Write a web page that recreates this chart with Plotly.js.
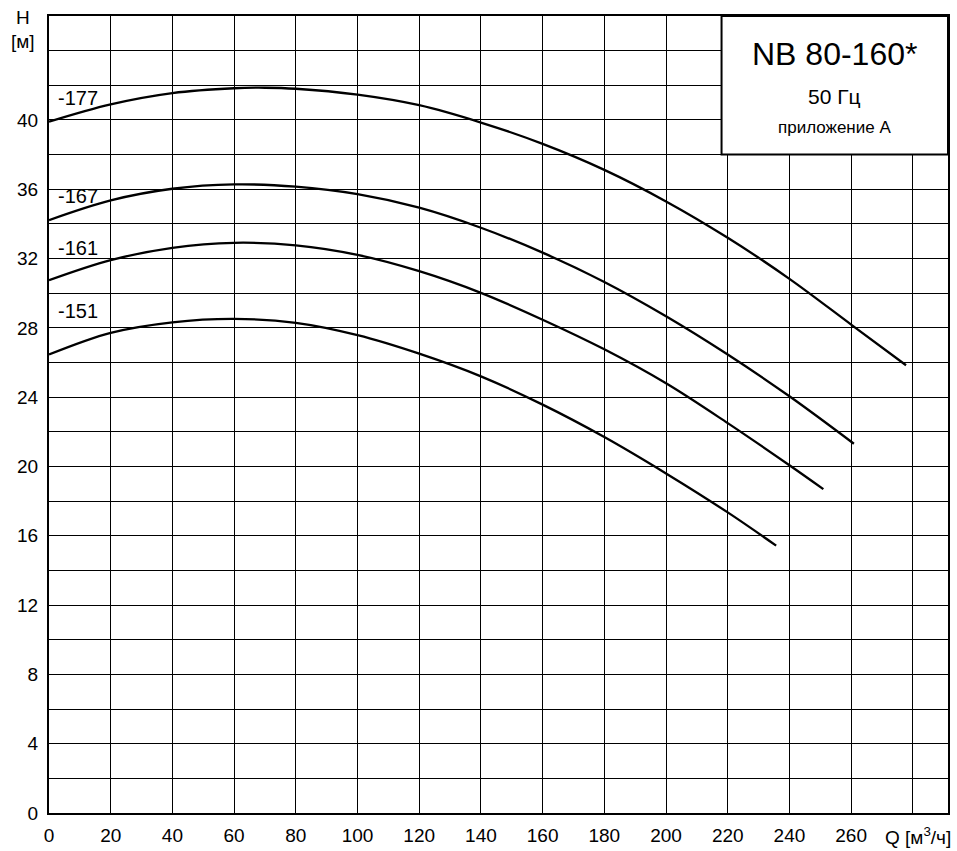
<!DOCTYPE html>
<html>
<head>
<meta charset="utf-8">
<script src="https://cdn.plot.ly/plotly-3.0.1.min.js"></script>
<style>html,body{margin:0;padding:0;background:#fff;}#chart{width:957px;height:851px;}</style>
</head>
<body>
<div id="chart"></div>
<script>
// ---- data ----
const q177 = [0, 20, 40, 60, 70, 80, 100, 120, 140, 160, 180, 200, 220, 240, 260, 277.8];
const h177 = [39.9, 40.9, 41.55, 41.83, 41.86, 41.8, 41.46, 40.85, 39.85, 38.62, 37.12, 35.3, 33.2, 30.83, 28.19, 25.84];

const q167 = [0, 20, 40, 60, 80, 100, 120, 140, 160, 180, 200, 220, 240, 260.9];
const h167 = [34.22, 35.36, 36.03, 36.28, 36.15, 35.72, 34.94, 33.78, 32.34, 30.65, 28.67, 26.46, 24.05, 21.31];

const q161 = [0, 20, 40, 60, 80, 100, 120, 140, 160, 180, 200, 220, 240, 251];
const h161 = [30.75, 31.91, 32.62, 32.91, 32.76, 32.21, 31.27, 30.02, 28.47, 26.76, 24.8, 22.5, 20.07, 18.69];

const q151 = [0, 20, 40, 60, 80, 100, 120, 140, 160, 180, 200, 220, 235.7];
const h151 = [26.46, 27.71, 28.32, 28.52, 28.29, 27.58, 26.51, 25.2, 23.57, 21.7, 19.6, 17.35, 15.43];

const curveNames = ['-177', '-167', '-161', '-151'];
const labelY = [41.27, 35.59, 32.62, 28.98];

const xTickVals = [0, 20, 40, 60, 80, 100, 120, 140, 160, 180, 200, 220, 240, 260, 280];
const xTickText = ['0', '20', '40', '60', '80', '100', '120', '140', '160', '180', '200', '220', '240', '260', ' '];
const yTickVals = [0, 2, 4, 6, 8, 10, 12, 14, 16, 18, 20, 22, 24, 26, 28, 30, 32, 34, 36, 38, 40, 42, 44, 46];
const yTickText = ['0', ' ', '4', ' ', '8', ' ', '12', ' ', '16', ' ', '20', ' ', '24', ' ', '28', ' ', '32', ' ', '36', ' ', '40', ' ', ' ', ' '];

const titleMain = 'NB 80-160*';
const titleFreq = '50 Гц';
const titleNote = 'приложение А';

// ---- chart ----
const FONT = 'Liberation Sans, Arial, Helvetica, sans-serif';
const X_MAX = 291.4, Y_MAX = 46;

const series = [[q177, h177], [q167, h167], [q161, h161], [q151, h151]];
const traces = series.map((s, i) => ({
  x: s[0], y: s[1], type: 'scatter', mode: 'lines', name: curveNames[i],
  line: {color: '#000', width: 2.3, shape: 'spline', smoothing: 1},
  hoverinfo: 'x+y'
}));

const annotations = curveNames.map((n, i) => ({
  x: 2.4, y: labelY[i], xref: 'x', yref: 'y', text: n, showarrow: false,
  xanchor: 'left', yanchor: 'middle', font: {family: FONT, size: 20, color: '#000'}
}));
const boxCx = (218 + X_MAX) / 2;
annotations.push(
  {x: boxCx, y: 43.8, xref: 'x', yref: 'y', text: titleMain, showarrow: false, xanchor: 'center', yanchor: 'middle', font: {family: FONT, size: 32, color: '#000'}},
  {x: boxCx, y: 41.37, xref: 'x', yref: 'y', text: titleFreq, showarrow: false, xanchor: 'center', yanchor: 'middle', font: {family: FONT, size: 21, color: '#000'}},
  {x: boxCx, y: 39.54, xref: 'x', yref: 'y', text: titleNote, showarrow: false, xanchor: 'center', yanchor: 'middle', font: {family: FONT, size: 17, color: '#000'}},
  {x: -0.0289, y: 0.9985, xref: 'paper', yref: 'paper', text: 'H', showarrow: false, xanchor: 'center', yanchor: 'middle', font: {family: FONT, size: 19, color: '#000'}},
  {x: -0.0289, y: 0.9685, xref: 'paper', yref: 'paper', text: '[м]', showarrow: false, xanchor: 'center', yanchor: 'middle', font: {family: FONT, size: 19, color: '#000'}},
  {x: 1.0055, y: -0.0292, xref: 'paper', yref: 'paper', text: 'Q [м<sup>3</sup>/ч]', showarrow: false, xanchor: 'right', yanchor: 'middle', font: {family: FONT, size: 19, color: '#000'}}
);

const layout = {
  width: 957, height: 851,
  margin: {l: 49, r: 9, t: 16, b: 38.3, pad: 0},
  paper_bgcolor: '#fff', plot_bgcolor: '#fff',
  showlegend: false,
  font: {family: FONT, size: 19, color: '#000'},
  xaxis: {
    range: [0, X_MAX], tickmode: 'array', tickvals: xTickVals, ticktext: xTickText,
    showgrid: true, gridcolor: '#000', gridwidth: 1, zeroline: false,
    showline: true, mirror: true, linecolor: '#000', linewidth: 2,
    ticks: '', ticklabelstandoff: 4, tickfont: {family: FONT, size: 19, color: '#000'}, fixedrange: true
  },
  yaxis: {
    range: [0, Y_MAX], tickmode: 'array', tickvals: yTickVals, ticktext: yTickText,
    showgrid: true, gridcolor: '#000', gridwidth: 1, zeroline: false,
    showline: true, mirror: true, linecolor: '#000', linewidth: 2,
    ticks: '', ticklabelstandoff: 5, tickfont: {family: FONT, size: 19, color: '#000'}, fixedrange: true
  },
  shapes: [{
    type: 'rect', xref: 'x', yref: 'y', x0: 218, x1: X_MAX, y0: 38, y1: Y_MAX,
    fillcolor: '#fff', line: {color: '#000', width: 2}, layer: 'above'
  }],
  annotations: annotations
};

Plotly.newPlot('chart', traces, layout, {displayModeBar: false, staticPlot: true});
</script>
</body>
</html>
